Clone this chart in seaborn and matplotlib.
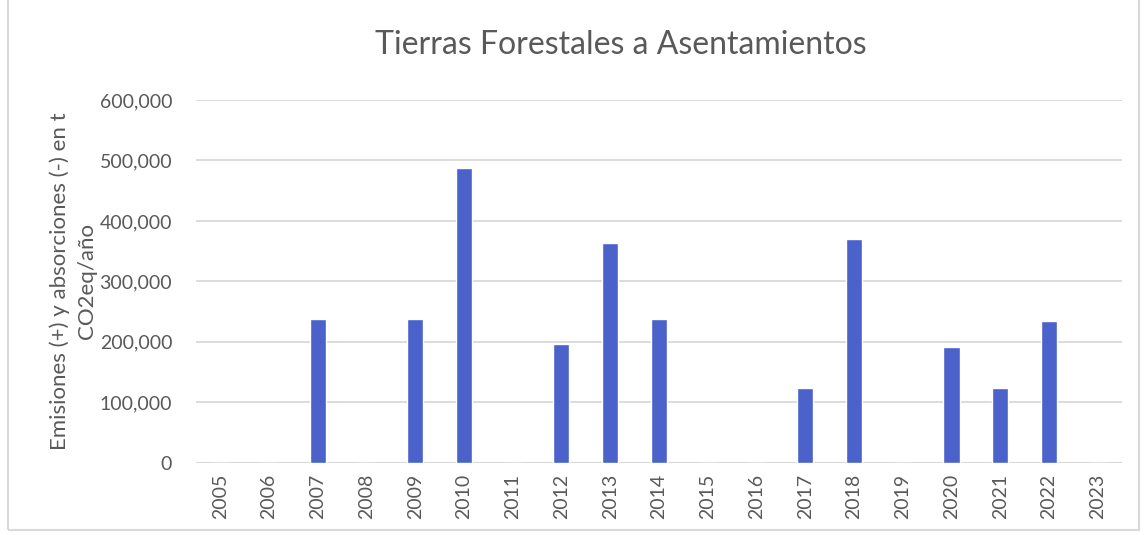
import matplotlib
matplotlib.use("Agg")
import pandas as pd
import seaborn as sns
import matplotlib.pyplot as plt
from matplotlib.patches import Rectangle
from matplotlib.ticker import FuncFormatter

years = [str(y) for y in range(2005, 2024)]
values = [0, 0, 238000, 0, 238000, 488000, 0, 197000, 364000, 238000,
          0, 0, 124000, 370000, 0, 192000, 124000, 235000, 0]
y_ticks = [0, 100000, 200000, 300000, 400000, 500000, 600000]

title = "Tierras Forestales a Asentamientos"
y_label = "Emisiones (+) y absorciones (-) en t\nCO2eq/año"

bar_color = "#4a62c9"
text_color = "#595959"
grid_color = "#d9d9d9"

sns.set_theme(style="white")
plt.rcParams["font.family"] = ["Lato", "DejaVu Sans"]

df = pd.DataFrame({"year": years, "value": values})

fig = plt.figure(figsize=(11.45, 5.35), dpi=100)
ax = fig.add_axes([0.171, 0.135, 0.809, 0.678])

sns.barplot(data=df, x="year", y="value", color=bar_color, width=0.33,
            saturation=1, ax=ax)

ax.set_ylim(0, 600000)
ax.set_yticks(y_ticks)
ax.yaxis.set_major_formatter(FuncFormatter(lambda v, p: f"{int(v):,}"))
ax.grid(axis="y", color=grid_color, linewidth=1.3)
ax.set_axisbelow(True)
for s in ax.spines.values():
    s.set_visible(False)
ax.axhline(0, color=grid_color, linewidth=1.5, zorder=0)

ax.tick_params(axis="both", length=0, colors=text_color, labelsize=14)
ax.tick_params(axis="y", pad=17)
ax.tick_params(axis="x", pad=8)
plt.setp(ax.get_xticklabels(), rotation=90)

ax.set_xlabel("")
ax.set_ylabel(y_label, color=text_color, fontsize=16, labelpad=2,
              linespacing=1.45)
fig.text(0.542, 0.916, title, ha="center", va="center", fontsize=23,
         color=text_color)

fig.patches.append(Rectangle((0.007, 0.01), 0.988, 1.2, transform=fig.transFigure,
                             fill=False, edgecolor=grid_color, linewidth=1.5))

fig.savefig("out.png", dpi=100, facecolor="white")
